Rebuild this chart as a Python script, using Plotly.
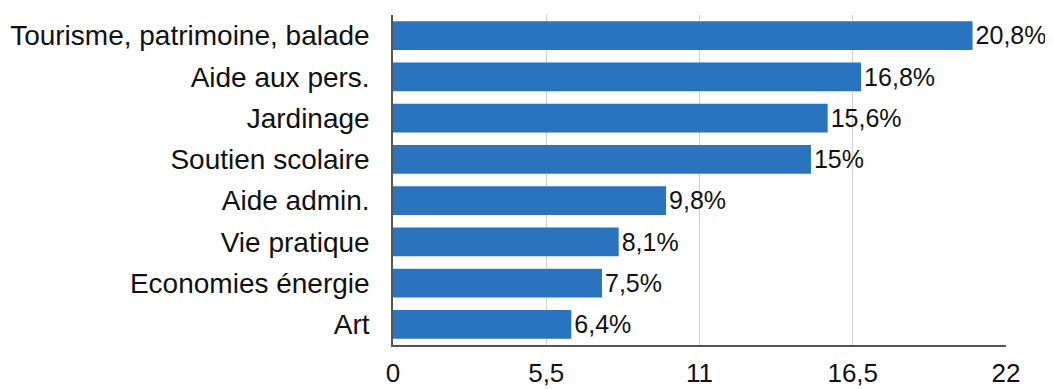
import plotly.graph_objects as go

categories = ["Tourisme, patrimoine, balade", "Aide aux pers.", "Jardinage", "Soutien scolaire",
              "Aide admin.", "Vie pratique", "Economies énergie", "Art"]
values = [20.8, 16.8, 15.6, 15, 9.8, 8.1, 7.5, 6.4]
labels = ["20,8%", "16,8%", "15,6%", "15%", "9,8%", "8,1%", "7,5%", "6,4%"]
tick_vals = [0, 5.5, 11, 16.5, 22]
tick_text = ["0", "5,5", "11", "16,5", "22"]

FONT = "Liberation Sans, Arial, sans-serif"

fig = go.Figure(go.Bar(
    y=categories, x=values, orientation="h",
    marker=dict(color="#2a73be", line=dict(width=0)),
    text=labels, textposition="outside", cliponaxis=False,
    textfont=dict(size=26, color="#111111", family=FONT),
))

# page body has an 8px margin, so the figure is sized/offset to compensate
fig.update_layout(
    width=1045, height=381,
    margin=dict(l=385, r=47, t=7, b=44),
    paper_bgcolor="white", plot_bgcolor="white",
    font=dict(family=FONT, color="#111111"),
    bargap=0.3, showlegend=False,
)
fig.update_xaxes(
    range=[0, 22], tickvals=tick_vals, ticktext=tick_text,
    showgrid=True, gridcolor="#d0d0d0", gridwidth=1,
    showline=True, linecolor="#555555", linewidth=1.5,
    zeroline=False, tickfont=dict(size=26), ticklabelstandoff=4,
    automargin=False,
)
fig.update_yaxes(
    autorange="reversed", showline=True, linecolor="#555555", linewidth=1.5,
    tickfont=dict(size=28), ticklabelstandoff=16, automargin=False,
)

fig.write_html("out.html")
